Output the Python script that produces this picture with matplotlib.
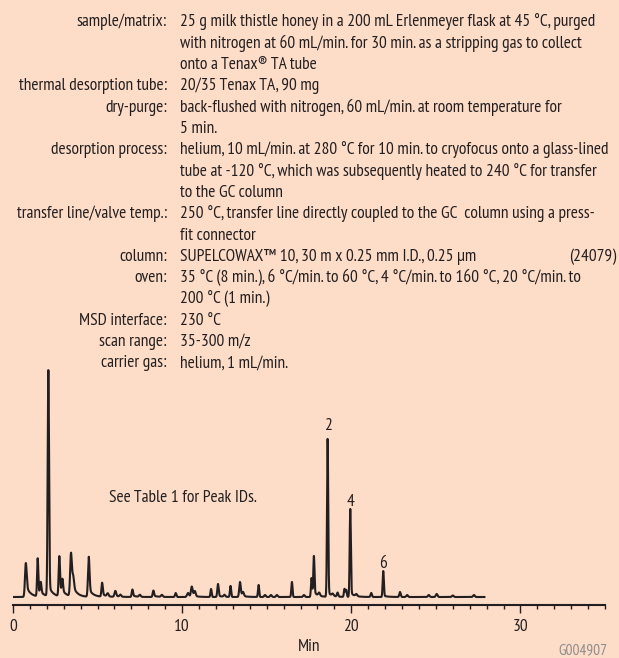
import numpy as np
import matplotlib.pyplot as plt

# analysis conditions
cond_labels = ["sample/matrix:", "thermal desorption tube:", "dry-purge:",
               "desorption process:", "transfer line/valve temp.:", "column:",
               "oven:", "MSD interface:", "scan range:", "carrier gas:"]
cond_values = [
    ["25 g milk thistle honey in a 200 mL Erlenmeyer flask at 45 °C, purged",
     "with nitrogen at 60 mL/min. for 30 min. as a stripping gas to collect",
     "onto a Tenax® TA tube"],
    ["20/35 Tenax TA, 90 mg"],
    ["back-flushed with nitrogen, 60 mL/min. at room temperature for",
     "5 min."],
    ["helium, 10 mL/min. at 280 °C for 10 min. to cryofocus onto a glass-lined",
     "tube at -120 °C, which was subsequently heated to 240 °C for transfer",
     "to the GC column"],
    ["250 °C, transfer line directly coupled to the GC  column using a press-",
     "fit connector"],
    ["SUPELCOWAX™ 10, 30 m x 0.25 mm I.D., 0.25 µm"],
    ["35 °C (8 min.), 6 °C/min. to 60 °C, 4 °C/min. to 160 °C, 20 °C/min. to",
     "200 °C (1 min.)"],
    ["230 °C"],
    ["35-300 m/z"],
    ["helium, 1 mL/min."],
]
column_catno = "(24079)"

# chromatogram peaks: retention time (min), height, width (min), tail fraction
peak_rt = [0.76, 1.46, 1.64, 2.09, 2.74, 2.92, 3.43, 3.56, 4.48, 5.27, 5.6, 6.05,
           6.35, 7.06, 7.5, 8.3, 8.8, 9.62, 10.35, 10.57, 10.75, 11.71, 12.12, 12.5,
           12.86, 13.42, 13.6, 14.52, 14.9, 15.25, 15.6, 16.49, 17.2, 17.65, 17.79,
           18.1, 18.6, 18.9, 19.19, 19.6, 19.7, 19.94, 20.3, 21.18, 21.89, 22.88,
           23.3, 24.58, 25.05, 26.0, 27.25]
peak_h = [34, 38, 12, 226, 40, 14, 43, 14, 40, 14, 3, 6,
          2, 7.5, 2, 6.5, 2, 4, 4, 10.5, 5, 8, 13, 2,
          11, 15, 4, 12, 2, 2, 2, 15, 2, 19, 40,
          3, 158, 2, 4, 8, 7, 88, 2, 4, 26, 5,
          2, 2, 3, 1.5, 2]
peak_w = [0.05, 0.035, 0.04, 0.04, 0.04, 0.04, 0.05, 0.05, 0.045, 0.04, 0.05, 0.05,
          0.05, 0.04, 0.05, 0.04, 0.05, 0.04, 0.06, 0.05, 0.05, 0.035, 0.04, 0.05,
          0.035, 0.045, 0.05, 0.035, 0.05, 0.05, 0.05, 0.035, 0.05, 0.035, 0.035,
          0.05, 0.035, 0.05, 0.04, 0.035, 0.035, 0.035, 0.05, 0.04, 0.035, 0.04,
          0.05, 0.05, 0.05, 0.05, 0.05]
peak_tail = [0.35, 0.15, 0.2, 0.05, 0.2, 0.2, 0.25, 0.25, 0.2, 0.2, 0, 0.2,
             0, 0.2, 0, 0.2, 0, 0, 0, 0.2, 0, 0, 0.1, 0,
             0, 0.15, 0, 0, 0, 0, 0, 0, 0, 0.1, 0.1,
             0, 0.03, 0, 0, 0, 0, 0.05, 0, 0, 0.05, 0,
             0, 0, 0, 0, 0]
peak_tau = 0.25
run_end = 27.87

# numbered peaks and the baseline height of each number
pk_num = ["2", "4", "6"]
pk_num_rt = [18.6, 19.94, 21.89]
pk_num_y = [167, 91, 29]

plt.rcParams["font.family"] = ["PT Sans Narrow", "Fira Sans Condensed",
                               "Archivo Narrow", "Asap Condensed", "DejaVu Sans"]

bg = "#fddcc8"
ink = "#231f20"
fs = 12.5

fig = plt.figure(figsize=(6.19, 6.58), dpi=100, facecolor=bg)

# text block, laid out in pixel units
tx = fig.add_axes([0, 0, 1, 1])
tx.set_xlim(0, 619)
tx.set_ylim(658, 0)
tx.axis("off")
line = 0
for lab, vals in zip(cond_labels, cond_values):
    y = 26.5 + 21.3 * line
    tx.text(167, y, lab, ha="right", va="baseline", fontsize=fs, color=ink)
    for j, v in enumerate(vals):
        tx.text(180, 26.5 + 21.3 * (line + j), v, ha="left", va="baseline",
                fontsize=fs, color=ink)
    if lab == "column:":
        tx.text(616, y, column_catno, ha="right", va="baseline", fontsize=fs, color=ink)
    line += len(vals)
tx.text(607, 654, "G004907", ha="right", va="baseline", fontsize=11, color="#8c8c8c")

# chromatogram trace
t = np.linspace(0, run_end, 8000)
sig = np.zeros_like(t)
for rt, h, w, a in zip(peak_rt, peak_h, peak_w, peak_tail):
    g = np.exp(-0.5 * ((t - rt) / w) ** 2)
    tail = np.where(t >= rt, np.exp(-(t - rt) / peak_tau), g)
    sig += h * ((1 - a) * g + a * tail)

ax = fig.add_axes([13 / 619, 53 / 658, 592 / 619, 245 / 658])
ax.set_facecolor("none")
ax.plot(t, sig, color=ink, lw=1.5)
ax.set_xlim(0, 35)
ax.set_ylim(-8, 237)
for s in ["top", "left", "right"]:
    ax.spines[s].set_visible(False)
ax.spines["bottom"].set_linewidth(1.5)
ax.spines["bottom"].set_color(ink)
ax.set_yticks([])
ax.set_xticks([0, 10, 20, 30])
ax.set_xticks(np.arange(0, 36, 1), minor=True)
ax.tick_params(axis="x", which="major", length=6, width=1, color=ink, pad=4,
               labelsize=fs, labelcolor=ink)
ax.tick_params(axis="x", which="minor", length=3.2, width=1, color=ink)
ax.set_xlabel("Min", fontsize=fs, color=ink, labelpad=3)

for lab, rt, y in zip(pk_num, pk_num_rt, pk_num_y):
    ax.text(rt, y, lab, ha="center", va="baseline", fontsize=fs, color=ink)
ax.text(5.68, 99, "See Table 1 for Peak IDs.", ha="left", va="center",
        fontsize=fs, color=ink)

fig.savefig("out.png", dpi=100, facecolor=bg)
